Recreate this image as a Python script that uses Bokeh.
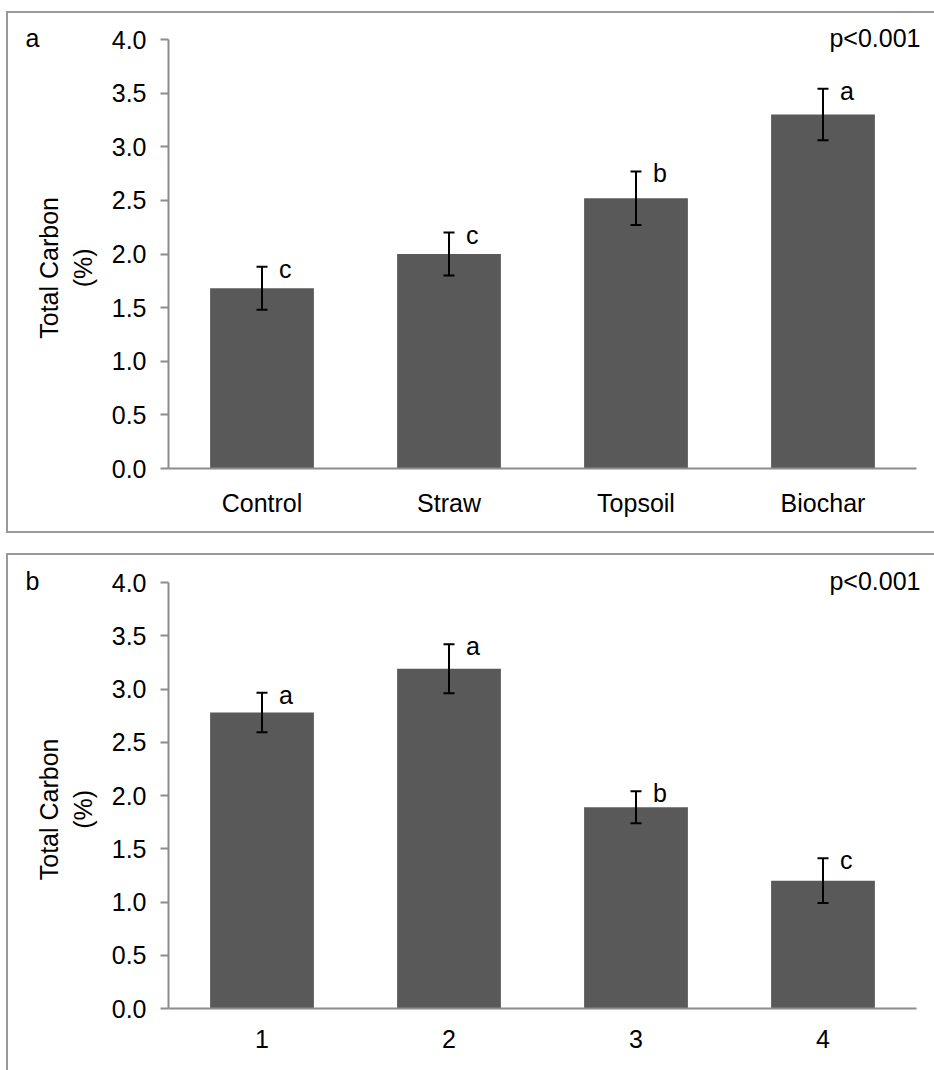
from bokeh.plotting import figure
from bokeh.models import (FactorRange, Range1d, FixedTicker, PrintfTickFormatter,
                          ColumnDataSource, Whisker, TeeHead, Title)
from bokeh.layouts import column
from bokeh.core.properties import value
from bokeh.embed import file_html
from bokeh.resources import INLINE

# ---- data ----
cats_a = ["Control", "Straw", "Topsoil", "Biochar"]
vals_a = [1.68, 2.00, 2.52, 3.30]
errs_a = [0.20, 0.20, 0.25, 0.24]
letters_a = ["c", "c", "b", "a"]

cats_b = ["1", "2", "3", "4"]
vals_b = [2.78, 3.19, 1.89, 1.20]
errs_b = [0.185, 0.23, 0.15, 0.21]
letters_b = ["a", "a", "b", "c"]

y_ticks = [0.0, 0.5, 1.0, 1.5, 2.0, 2.5, 3.0, 3.5, 4.0]
panel_labels = ["a", "b"]
p_text = "p<0.001"
y_title = "Total Carbon\u00a0\u00a0\u00a0\u00a0\n(%)\u00a0\u00a0\u00a0\u00a0"

FONT = "Liberation Sans"
FS = "25px"
BAR = "#595959"
AXC = "#8c8c8c"
BORDER = "#9a9a9a"


def make_panel(cats, vals, errs, letters, tag, height, min_top, min_bottom, xstand, borders):
    p = figure(x_range=FactorRange(factors=cats, range_padding=0),
               y_range=Range1d(0, 4),
               width=928, height=height,
               output_backend="svg", toolbar_location=None,
               min_border_left=160, min_border_right=20,
               min_border_top=min_top, min_border_bottom=min_bottom)
    p.outline_line_color = None
    p.xgrid.visible = False
    p.ygrid.visible = False
    p.background_fill_color = "white"
    p.border_fill_color = "white"

    # panel tag (left) and p-value (right), pulled down beside the axis top
    p.title = Title(text=tag, align="left", offset=-143, standoff=-34,
                    text_font=FONT, text_font_size=FS,
                    text_font_style="normal", text_color="black")
    p.add_layout(Title(text=p_text, align="right", offset=-4, standoff=-25,
                       text_font=FONT, text_font_size=FS,
                       text_font_style="normal", text_color="black"), "above")

    src = ColumnDataSource(dict(
        x=cats, top=vals,
        upper=[v + e for v, e in zip(vals, errs)],
        lower=[v - e for v, e in zip(vals, errs)],
        lab=letters))

    p.vbar(x="x", top="top", width=0.555, source=src,
           fill_color=BAR, line_color=None)

    w = Whisker(base="x", upper="upper", lower="lower", source=src,
                line_color="black", line_width=2, level="overlay",
                upper_head=TeeHead(size=11, line_color="black", line_width=2),
                lower_head=TeeHead(size=11, line_color="black", line_width=2))
    p.add_layout(w)

    p.text(x="x", y="upper", text="lab", source=src,
           x_offset=17, y_offset=2,
           text_align="left", text_baseline="alphabetic",
           text_font=value(FONT), text_font_size=FS, text_color="black")

    # axes
    p.yaxis.ticker = FixedTicker(ticks=y_ticks)
    p.yaxis.formatter = PrintfTickFormatter(format="%.1f")
    for ax in (p.xaxis, p.yaxis):
        ax.axis_line_color = AXC
        ax.axis_line_width = 2
        ax.major_tick_line_color = AXC
        ax.major_tick_line_width = 2
        ax.minor_tick_line_color = None
        ax.major_label_text_font = FONT
        ax.major_label_text_font_size = FS
        ax.major_label_text_color = "black"
    p.yaxis.major_tick_out = 8
    p.yaxis.major_tick_in = 0
    p.yaxis.major_label_standoff = 14
    p.yaxis.axis_label = y_title
    p.yaxis.axis_label_text_font = FONT
    p.yaxis.axis_label_text_font_size = FS
    p.yaxis.axis_label_text_font_style = "normal"
    p.yaxis.axis_label_text_color = "black"
    p.yaxis.axis_label_standoff = 12
    p.xaxis.major_tick_out = 0
    p.xaxis.major_tick_in = 0
    p.xaxis.major_label_standoff = xstand

    p.styles = {b: f"2px solid {BORDER}" for b in borders}
    return p


pa = make_panel(cats_a, vals_a, errs_a, letters_a, panel_labels[0],
                height=522, min_top=26, min_bottom=67, xstand=20,
                borders=["border-left", "border-top", "border-bottom"])
pb = make_panel(cats_b, vals_b, errs_b, letters_b, panel_labels[1],
                height=517, min_top=27, min_bottom=64, xstand=21,
                borders=["border-left", "border-top"])
pa.margin = (11, 0, 0, 6)
pb.margin = (20, 0, 0, 6)

layout = column(pa, pb, spacing=0)
html = file_html(layout, INLINE)
html = html.replace("<head>", "<head><style>html,body{margin:0;padding:0;overflow:hidden;background:white;}</style>", 1)
open("out.html", "w").write(html)
